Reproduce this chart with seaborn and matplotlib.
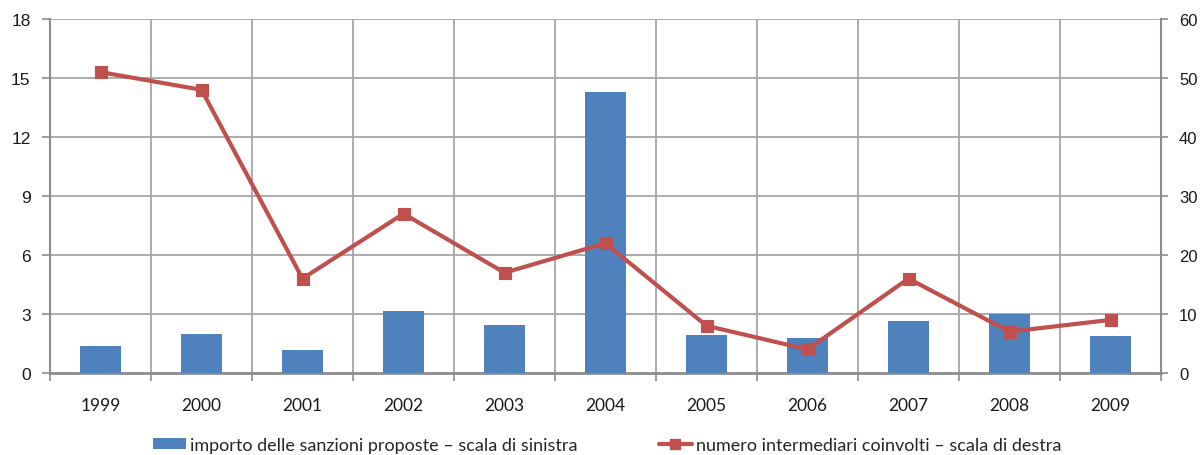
import matplotlib
matplotlib.use("Agg")
import matplotlib.pyplot as plt
import seaborn as sns
import pandas as pd
import numpy as np
from matplotlib.patches import Patch
from matplotlib.lines import Line2D

years = ["1999", "2000", "2001", "2002", "2003", "2004", "2005", "2006", "2007", "2008", "2009"]
importo = [1.39, 2.0, 1.18, 3.15, 2.46, 14.27, 1.95, 1.76, 2.66, 2.98, 1.87]
intermediari = [51, 48, 16, 27, 17, 22, 8, 4, 16, 7, 9]
left_ticks = [0, 3, 6, 9, 12, 15, 18]
right_ticks = [0, 10, 20, 30, 40, 50, 60]
label_bar = "importo delle sanzioni proposte – scala di sinistra"
label_line = "numero intermediari coinvolti – scala di destra"

BLUE = "#4F81BD"
RED = "#C0504D"
GRID = "#A6A6A6"
SPINE = "#8C8C8C"

sns.set_theme(style="white")
plt.rcParams["font.family"] = ["Liberation Sans", "DejaVu Sans"]

df = pd.DataFrame({"year": years, "importo": importo, "n": intermediari})

fig = plt.figure(figsize=(12.03, 4.56), dpi=100)
ax = fig.add_axes([50 / 1203, 1 - 374 / 456, (1161 - 50) / 1203, (374 - 20) / 456])

sns.barplot(data=df, x="year", y="importo", ax=ax, color=BLUE, width=0.4,
            saturation=1, edgecolor="none", zorder=3)

ax2 = ax.twinx()
sns.pointplot(data=df, x="year", y="n", ax=ax2, color=RED, markers="s",
              markersize=7, linewidth=3, errorbar=None, zorder=4)

ax.set_xlim(-0.5, len(years) - 0.5)
ax.set_ylim(0, 18)
ax2.set_ylim(0, 60)
ax.set_yticks(left_ticks)
ax2.set_yticks(right_ticks)
ax.set_xlabel("")
ax.set_ylabel("")
ax2.set_xlabel("")
ax2.set_ylabel("")

# grid
for y in left_ticks[1:]:
    ax.axhline(y, color=GRID, lw=1.3, zorder=1)
for xb in np.arange(-0.5, len(years), 1.0)[1:-1]:
    ax.axvline(xb, color=GRID, lw=1.3, zorder=1)

for a in (ax, ax2):
    for s in a.spines.values():
        s.set_visible(False)
ax.spines["left"].set_visible(True)
ax.spines["left"].set_color(SPINE)
ax.spines["left"].set_linewidth(1.5)
ax.spines["bottom"].set_visible(True)
ax.spines["bottom"].set_color(SPINE)
ax.spines["bottom"].set_linewidth(2)
ax2.spines["right"].set_visible(True)
ax2.spines["right"].set_color(SPINE)
ax2.spines["right"].set_linewidth(1.5)

ax.tick_params(axis="y", left=True, length=6, width=1.2, color=SPINE, labelsize=12.5,
               labelcolor="#1a1a1a", pad=8)
ax2.tick_params(axis="y", right=True, length=5, width=1.2, color=SPINE, labelsize=12,
                labelcolor="#1a1a1a", pad=8)
ax.set_xticks(range(len(years)))
ax.set_xticklabels(years)
ax.tick_params(axis="x", bottom=False, labelsize=12.5, labelcolor="#1a1a1a", pad=11)
for t in ax.get_xticklabels():
    t.set_family(["Lato", "DejaVu Sans"])
ax.set_xticks(np.arange(-0.5, len(years), 1.0), minor=True)
ax.tick_params(axis="x", which="minor", bottom=True, length=6, width=1.2, color=SPINE)

handles = [Patch(facecolor=BLUE, edgecolor="none", label=label_bar),
           Line2D([0], [0], color=RED, lw=3, marker="s", markersize=7, label=label_line)]
fig.legend(handles=handles, loc="center", bbox_to_anchor=(0.505, 1 - 446 / 456), ncol=2,
           frameon=False, prop={"family": ["Lato", "DejaVu Sans"], "size": 13},
           handlelength=1.8, handletextpad=0.25, columnspacing=4.5, handleheight=0.6)

fig.savefig("out.png", dpi=100)
